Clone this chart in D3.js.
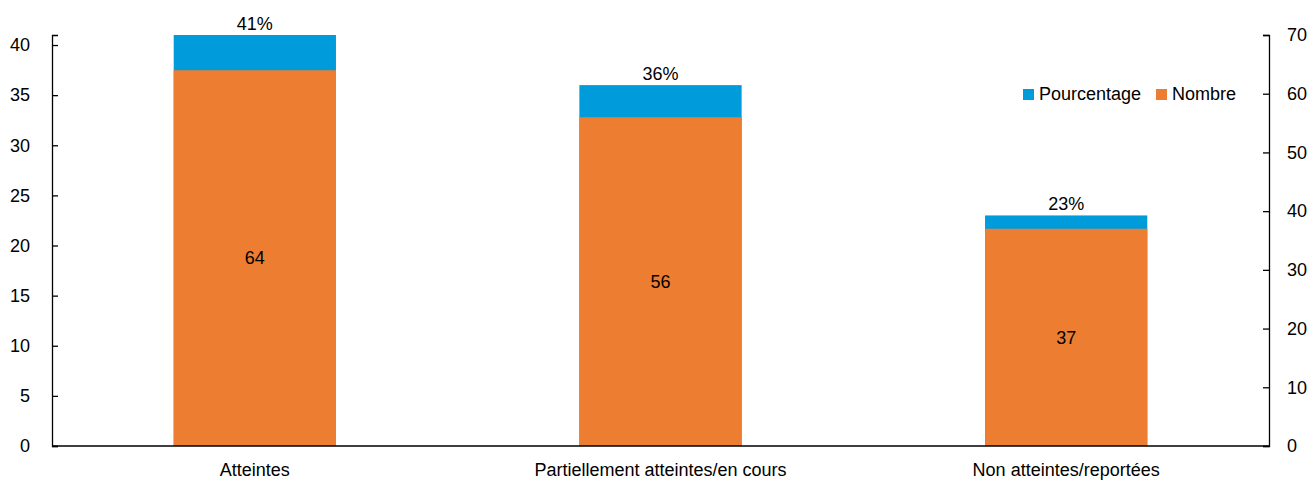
<!DOCTYPE html>
<html>
<head>
<meta charset="utf-8">
<script src="https://cdn.jsdelivr.net/npm/d3@7"></script>
<style>
  body { margin: 0; background: #fff; }
  svg text { font-family: "Liberation Sans", Arial, sans-serif; fill: #000; }
</style>
</head>
<body>
<div id="chart"></div>
<script>
const categories = ['Atteintes', 'Partiellement atteintes/en cours', 'Non atteintes/reportées']
const pourcentage = [41, 36, 23]
const nombre = [64, 56, 37]
const leftTicks = [0, 5, 10, 15, 20, 25, 30, 35, 40]
const rightTicks = [0, 10, 20, 30, 40, 50, 60, 70]

const width = 1309
const height = 483
const margin = {top: 35, right: 40, bottom: 37, left: 52}
const blue = '#009bdb'
const orange = '#ed7d31'

const svg = d3.select('#chart').append('svg')
    .attr('width', width)
    .attr('height', height)

const xScale = d3.scaleBand()
    .domain(categories)
    .range([margin.left, width - margin.right])
    .paddingInner(0.6)
    .paddingOuter(0.3)

const yLeft = d3.scaleLinear()
    .domain([0, 41])
    .range([height - margin.bottom, margin.top])

const yRight = d3.scaleLinear()
    .domain([0, 70])
    .range([height - margin.bottom, margin.top])

const rows = categories.map((c, i) => ({cat: c, pct: pourcentage[i], n: nombre[i]}))

// percentage bars (left axis), drawn first
svg.selectAll('rect.pct')
    .data(rows)
    .enter()
    .append('rect')
    .attr('class', 'pct')
    .attr('x', d => xScale(d.cat))
    .attr('y', d => yLeft(d.pct))
    .attr('width', xScale.bandwidth())
    .attr('height', d => yLeft(0) - yLeft(d.pct))
    .attr('fill', blue)

// number bars (right axis), on top
svg.selectAll('rect.n')
    .data(rows)
    .enter()
    .append('rect')
    .attr('class', 'n')
    .attr('x', d => xScale(d.cat))
    .attr('y', d => yRight(d.n))
    .attr('width', xScale.bandwidth())
    .attr('height', d => yRight(0) - yRight(d.n))
    .attr('fill', orange)

svg.selectAll('text.pctlab')
    .data(rows)
    .enter()
    .append('text')
    .attr('class', 'pctlab')
    .attr('x', d => xScale(d.cat) + xScale.bandwidth() / 2)
    .attr('y', d => yLeft(d.pct) - 5)
    .attr('text-anchor', 'middle')
    .attr('font-size', 18)
    .text(d => d.pct + '%')

svg.selectAll('text.nlab')
    .data(rows)
    .enter()
    .append('text')
    .attr('class', 'nlab')
    .attr('x', d => xScale(d.cat) + xScale.bandwidth() / 2)
    .attr('y', d => (yRight(d.n) + yRight(0)) / 2)
    .attr('dy', '0.35em')
    .attr('text-anchor', 'middle')
    .attr('font-size', 18)
    .text(d => d.n)

// axes
const xAxis = d3.axisBottom(xScale).tickSize(0).tickPadding(17)
const leftAxis = d3.axisLeft(yLeft).tickValues(leftTicks).tickSize(-6).tickPadding(22)
const rightAxis = d3.axisRight(yRight).tickValues(rightTicks).tickSize(-6).tickPadding(18)

function styleAxis(g) {
    g.selectAll('path.domain').attr('stroke', '#000').attr('stroke-width', 1.3)
    g.selectAll('line').attr('stroke', '#000').attr('stroke-width', 1.3)
    g.selectAll('text').attr('font-size', 18)
    g.attr('font-family', null)
}

svg.append('g')
    .attr('transform', `translate(0, ${height - margin.bottom})`)
    .call(xAxis)
    .call(styleAxis)
    .call(g => g.select('path.domain').attr('d', `M${margin.left},0H${width - margin.right}`))

svg.append('g')
    .attr('transform', `translate(${margin.left}, 0)`)
    .call(leftAxis)
    .call(styleAxis)
    .call(g => g.selectAll('.tick text').attr('x', -22))

svg.append('g')
    .attr('transform', `translate(${width - margin.right}, 0)`)
    .call(rightAxis)
    .call(styleAxis)
    .call(g => g.selectAll('.tick text').attr('x', 18))

// legend
const legendItems = [{label: 'Pourcentage', color: blue, x: 1023}, {label: 'Nombre', color: orange, x: 1156}]
const legend = svg.append('g').attr('transform', 'translate(0, 94)')
legend.selectAll('rect')
    .data(legendItems)
    .enter()
    .append('rect')
    .attr('x', d => d.x)
    .attr('y', -5)
    .attr('width', 11)
    .attr('height', 11)
    .attr('fill', d => d.color)
legend.selectAll('text')
    .data(legendItems)
    .enter()
    .append('text')
    .attr('x', d => d.x + 16)
    .attr('y', 0)
    .attr('dy', '0.35em')
    .attr('font-size', 18)
    .text(d => d.label)
</script>
</body>
</html>
